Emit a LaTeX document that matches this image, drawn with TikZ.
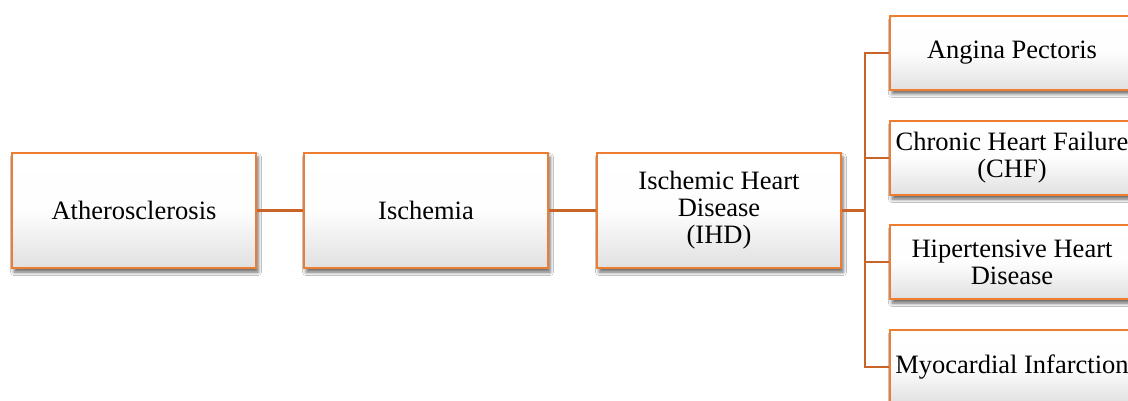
\documentclass[tikz,border=0pt]{standalone}
\usepackage{fontspec}
\setmainfont{Liberation Serif}
\usetikzlibrary{shadows.blur}
\definecolor{boxorange}{RGB}{237,125,49}
\definecolor{linkorange}{RGB}{200,100,40}
\definecolor{boxgray}{RGB}{224,224,224}
\tikzset{
  diagbox/.style={draw=boxorange, line width=2.2pt, rectangle,
    top color=white, bottom color=boxgray, middle color=white!95!boxgray,
    minimum width=244pt, align=center, inner sep=2pt,
    font=\fontsize{26.5pt}{27pt}\selectfont,
    blur shadow={shadow xshift=2pt, shadow yshift=-4pt, shadow blur radius=3.5pt, shadow opacity=60}},
  bigbox/.style={diagbox, minimum height=115pt},
  smallbox/.style={diagbox, minimum height=74pt},
  link/.style={draw=linkorange, line width=2.2pt}
}
\begin{document}
\begin{tikzpicture}[x=1pt,y=-1pt]
\clip (0,0) rectangle (1128,401);
\fill[white] (0,0) rectangle (1128,401);
\node[bigbox] (ath) at (134,210.5) {Atherosclerosis};
\node[bigbox] (isc) at (426,210.5) {Ischemia};
\node[bigbox] (ihd) at (719,210.5) {Ischemic Heart\\Disease\\(IHD)};
\node[smallbox] (ang) at (1012,53) {Angina Pectoris};
\node[smallbox] (chf) at (1012,158) {Chronic Heart Failure\\(CHF)};
\node[smallbox] (hhd) at (1012,262) {Hipertensive Heart\\Disease};
\node[smallbox] (mi) at (1012,367) {Myocardial Infarction};
\coordinate (j) at (865,210.5);
\draw[link] (ath.east) -- (isc.west);
\draw[link] (isc.east) -- (ihd.west);
\draw[link] (ihd.east) -- (j);
\draw[link] (j) |- (ang.west);
\draw[link] (j) |- (chf.west);
\draw[link] (j) |- (hhd.west);
\draw[link] (j) |- (mi.west);
\end{tikzpicture}
\end{document}
